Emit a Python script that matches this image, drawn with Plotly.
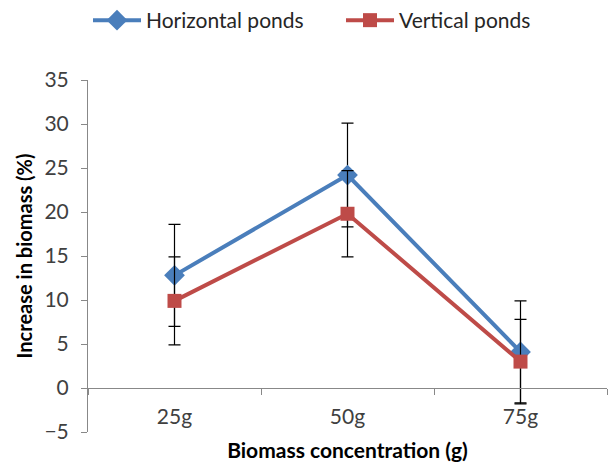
import plotly.graph_objects as go

categories = ["25g", "50g", "75g"]
horizontal = [12.8, 24.2, 4.1]
horizontal_err = [5.8, 5.9, 5.8]
vertical = [9.9, 19.8, 3.0]
vertical_err = [5.0, 4.9, 4.8]

blue = "#4A7EBB"
red = "#BE4B48"
axis_col = "#888888"
font_family = "Lato, 'Open Sans', sans-serif"

fig = go.Figure()
fig.add_trace(go.Scatter(
    x=categories, y=horizontal, name="Horizontal ponds", mode="lines+markers",
    line=dict(color=blue, width=4),
    marker=dict(symbol="diamond", size=16, color=blue),
    error_y=dict(type="data", array=horizontal_err, visible=True, color="black", thickness=1.2, width=6),
))
fig.add_trace(go.Scatter(
    x=categories, y=vertical, name="Vertical ponds", mode="lines+markers",
    line=dict(color=red, width=4),
    marker=dict(symbol="square", size=14, color=red),
    error_y=dict(type="data", array=vertical_err, visible=True, color="black", thickness=1.2, width=6),
))

fig.update_layout(
    width=610, height=468,
    margin=dict(l=88, r=3, t=80, b=36),
    paper_bgcolor="white", plot_bgcolor="white",
    font=dict(family=font_family, size=21, color="#404040"),
    showlegend=True,
    legend=dict(orientation="h", x=0, xref="paper", xanchor="left",
                y=1.0, yref="container", yanchor="top",
                font=dict(size=21, color="#262626"), itemwidth=48,
                entrywidth=190, entrywidthmode="pixels"),
    xaxis=dict(
        type="category", categoryorder="array", categoryarray=categories,
        range=[-0.5, 2.5],
        anchor="free", position=0.125,
        showline=True, linecolor=axis_col, linewidth=1,
        ticks="outside", tickson="boundaries", ticklen=6, tickcolor=axis_col,
        showgrid=False, zeroline=False,
        ticklabelstandoff=10,
        tickfont=dict(size=21, color="#404040"),
        title=dict(text="<b>Biomass concentration (g)</b>", font=dict(size=21, color="#000000"), standoff=16),
    ),
    yaxis=dict(
        range=[-5, 35], dtick=5, tick0=0,
        showline=True, linecolor=axis_col, linewidth=1,
        ticks="outside", ticklen=6, tickcolor=axis_col,
        showgrid=False, zeroline=False,
        ticklabelstandoff=8,
        tickfont=dict(size=21, color="#404040"),
        title=dict(text="<b>Increase in biomass (%)</b>", font=dict(size=20, color="#000000"), standoff=6),
    ),
)

fig.write_html("out.html")
